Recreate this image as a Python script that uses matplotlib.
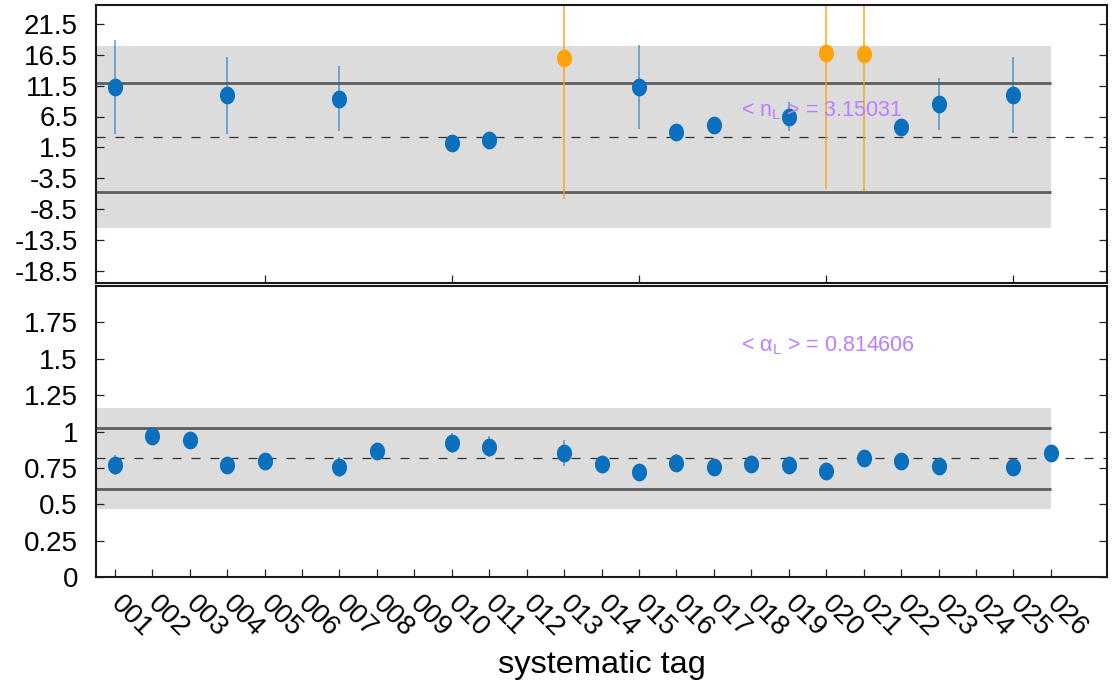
import numpy as np
import matplotlib
matplotlib.use("Agg")
import matplotlib.pyplot as plt
from matplotlib.path import Path

plt.rcParams['font.family'] = ['Liberation Sans', 'DejaVu Sans']
plt.rcParams['mathtext.fontset'] = 'custom'
plt.rcParams['mathtext.rm'] = 'Liberation Sans'
plt.rcParams['mathtext.it'] = 'Liberation Sans:italic'

# ---- data -------------------------------------------------------------
tags = ['%03d' % i for i in range(1, 27)]

nan = np.nan
# fitted n_L per systematic (nan = not shown)
nL = [11.3, nan, nan, 9.9, nan, nan, 9.4, nan, nan, 2.25, 2.7, nan, 16.0,
      nan, 11.3, 4.05, 5.1, nan, 6.5, 16.8, 16.6, 4.75, 8.5, nan, 10.0, nan]
nL_err = [7.6, nan, nan, 6.2, nan, nan, 5.2, nan, nan, 0.6, 0.6, nan, 22.8,
          nan, 6.8, 0.6, 0.6, nan, 2.3, 22.1, 22.2, 0.8, 4.2, nan, 6.1, nan]
# fits with very large uncertainty
nL_flag = [False] * 12 + [True] + [False] * 6 + [True, True] + [False] * 5

# fitted alpha_L per systematic
aL = [0.768, 0.971, 0.940, 0.768, 0.798, nan, 0.755, 0.869, nan, 0.919, 0.896,
      nan, 0.853, 0.777, 0.725, 0.784, 0.759, 0.779, 0.768, 0.729, 0.821,
      0.798, 0.766, nan, 0.755, 0.851]
aL_err = [0.07, 0.03, 0.03, 0.06, 0.04, nan, 0.07, 0.03, nan, 0.07, 0.07,
          nan, 0.09, 0.03, 0.03, 0.06, 0.04, 0.03, 0.05, 0.04, 0.05,
          0.05, 0.03, nan, 0.05, 0.03]

nL_mean, nL_inner, nL_outer = 3.15031, 8.8, 14.7
aL_mean, aL_inner, aL_outer = 0.814606, 0.21, 0.348

nL_ticks = [21.5, 16.5, 11.5, 6.5, 1.5, -3.5, -8.5, -13.5, -18.5]
aL_ticks = [0, 0.25, 0.5, 0.75, 1, 1.25, 1.5, 1.75]
aL_ticklabels = ['0', '0.25', '0.5', '0.75', '1', '1.25', '1.5', '1.75']

# ---- style ------------------------------------------------------------
BLUE = '#0a6fbd'
ORANGE = '#ffa30a'
BAND = '#dcdcdc'
LINE = '#5e5e5e'
TEXT = '#bb80ff'
FS_TICK = 20
FS_NOTE = 15.5
FS_LABEL = 23.4

W, H = 1113, 688
fig = plt.figure(figsize=(W / 100, H / 100), dpi=100)
ax1 = fig.add_axes([96 / W, 1 - 283.3 / H, (1107 - 96) / W, (283.3 - 5.3) / H])
ax2 = fig.add_axes([96 / W, 1 - 577 / H, (1107 - 96) / W, (577 - 286) / H])

# vertical ellipse marker
t = np.linspace(0, 2 * np.pi, 60)
ell = Path(np.column_stack([np.cos(t), 1.18 * np.sin(t)]), closed=True)

x = np.arange(1, len(tags) + 1)


def decorate(ax, mean, inner, outer):
    ax.fill_between([0, len(tags)], mean - outer, mean + outer,
                    color=BAND, lw=0, zorder=0)
    for v in (mean - inner, mean + inner):
        ax.plot([0, len(tags)], [v, v], color=LINE, lw=2.0, zorder=1,
                solid_capstyle='butt')
    ax.axhline(mean, color='#333333', lw=0.9, ls=(0, (7.2, 8.0)), zorder=1)
    ax.set_xlim(0.5, 27.5)
    for s in ax.spines.values():
        s.set_linewidth(1.5)
        s.set_color('#1a1a1a')
    ax.tick_params(direction='in', length=5.8, width=0.9, right=True,
                   labelsize=FS_TICK, pad=13, color='#222222')


def draw_points(ax, xs, ys, es, color, ecolor, ealpha):
    xs, ys, es = np.asarray(xs), np.asarray(ys), np.asarray(es)
    ax.errorbar(xs, ys, yerr=es, fmt='none', ecolor=ecolor, elinewidth=1.2,
                alpha=ealpha, capsize=0, zorder=2)
    ax.plot(xs, ys, ls='none', marker=ell, ms=12.8, mfc=color, mec='none',
            zorder=3)


# ---- top panel: n_L ---------------------------------------------------
decorate(ax1, nL_mean, nL_inner, nL_outer)
nL_a, nL_e, flag = np.array(nL), np.array(nL_err), np.array(nL_flag)
draw_points(ax1, x[~flag], nL_a[~flag], nL_e[~flag], BLUE, BLUE, 0.6)
draw_points(ax1, x[flag], nL_a[flag], nL_e[flag], ORANGE, ORANGE, 0.85)
ax1.set_ylim(-20.5, 24.5)
ax1.set_yticks(nL_ticks)
ax1.set_yticklabels(['%g' % v for v in nL_ticks])
ax1.set_xticks([5, 10, 15, 20, 25])
ax1.tick_params(axis='x', labelbottom=False)
ax1.text(17.73, 6.47, r'< n$_{\mathrm{L}}$ > = 3.15031', color=TEXT,
         fontsize=FS_NOTE, va='baseline', ha='left', zorder=5)

# ---- bottom panel: alpha_L --------------------------------------------
decorate(ax2, aL_mean, aL_inner, aL_outer)
draw_points(ax2, x, aL, aL_err, BLUE, BLUE, 0.6)
ax2.set_ylim(0, 2.0)
ax2.set_yticks(aL_ticks)
ax2.set_yticklabels(aL_ticklabels)
ax2.set_xticks(x)
ax2.set_xticklabels(tags, rotation=-45, ha='left', va='center',
                    rotation_mode='anchor')
ax2.tick_params(axis='x', pad=16.5)
ax2.text(17.73, 1.553, r'< α$_{\mathrm{L}}$ > = 0.814606', color=TEXT,
         fontsize=FS_NOTE, va='baseline', ha='left', zorder=5)
ax2.set_xlabel('systematic tag', fontsize=FS_LABEL, va='center')
ax2.xaxis.set_label_coords(0.5, -0.302)

fig.savefig('out.png', dpi=100)
